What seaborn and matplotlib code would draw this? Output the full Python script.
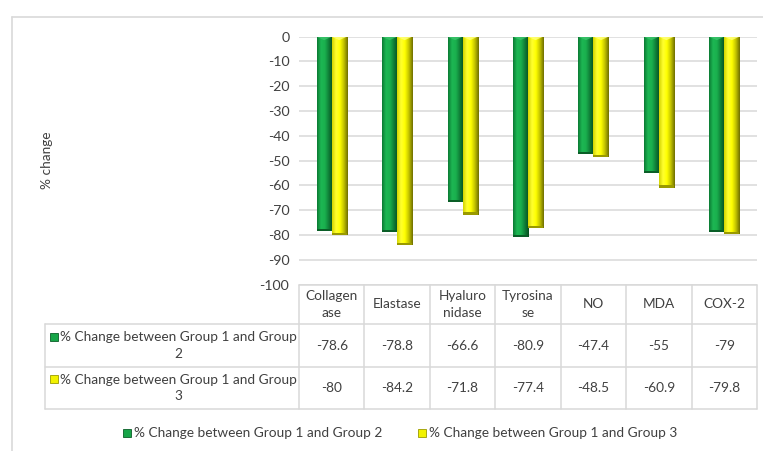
import numpy as np
import pandas as pd
import matplotlib
matplotlib.use("Agg")
import matplotlib.pyplot as plt
import seaborn as sns
from matplotlib.colors import LinearSegmentedColormap
from matplotlib.patches import Rectangle, Polygon
from matplotlib.lines import Line2D
from matplotlib.transforms import blended_transform_factory

# ---- data ----
categories = ["Collagenase", "Elastase", "Hyaluronidase", "Tyrosinase", "NO", "MDA", "COX-2"]
header_labels = ["Collagen\nase", "Elastase", "Hyaluro\nnidase", "Tyrosina\nse", "NO", "MDA", "COX-2"]
series_names = ["% Change between Group 1 and Group 2",
                "% Change between Group 1 and Group 3"]
row_labels = ["% Change between Group 1 and Group\n2",
              "% Change between Group 1 and Group\n3"]
group12 = [-78.6, -78.8, -66.6, -80.9, -47.4, -55, -79]
group13 = [-80, -84.2, -71.8, -77.4, -48.5, -60.9, -79.8]
value_text12 = ["-78.6", "-78.8", "-66.6", "-80.9", "-47.4", "-55", "-79"]
value_text13 = ["-80", "-84.2", "-71.8", "-77.4", "-48.5", "-60.9", "-79.8"]
y_ticks = list(range(0, -101, -10))

W, H = 763, 451
sns.set_theme(style="white")
plt.rcParams["font.family"] = ["Lato", "DejaVu Sans"]
TXT = "#404040"
GRID = "#d9d9d9"
FS = 9.8
LS = 1.5

fig = plt.figure(figsize=(W / 100, H / 100), dpi=100)
fig.patch.set_facecolor("white")

def fx(px):
    return px / W

def fy(py):
    return 1 - py / H

ax_l, ax_r, ax_t, ax_b = 299, 757, 36.7, 284.5
ax = fig.add_axes([fx(ax_l), fy(ax_b), fx(ax_r - ax_l), (ax_b - ax_t) / H])

df = pd.DataFrame({
    "category": categories * 2,
    "series": [series_names[0]] * len(categories) + [series_names[1]] * len(categories),
    "value": group12 + group13,
})

green, yellow = "#17a548", "#f2f200"
sns.barplot(data=df, x="category", y="value", hue="series", order=categories,
            hue_order=series_names, palette=[green, yellow], width=0.46,
            gap=0, dodge=True, saturation=1, legend=False, ax=ax,
            edgecolor="none", linewidth=0)

# bevelled, cylinder-like shading on each bar
stops = {
    green: ["#0b7a33", "#1db753", "#1ab04e", "#0f7d37", "#074d1f"],
    yellow: ["#d4d400", "#ffff30", "#ffff00", "#c2c200", "#6f6f00"],
}
ends = {green: "#0a5e27", yellow: "#9a9a00"}
tops = {green: "#3cc46c", yellow: "#ffff80"}
for patch in list(ax.patches):
    fc = matplotlib.colors.to_hex(patch.get_facecolor())
    key = green if fc == green else yellow
    x0, y0 = patch.get_x(), patch.get_y()
    w, h = patch.get_width(), patch.get_height()
    cmap = LinearSegmentedColormap.from_list("bar", stops[key])
    im = ax.imshow(np.linspace(0, 1, 64)[None, :], cmap=cmap,
                   extent=[x0, x0 + w, y0, y0 + h], aspect="auto",
                   interpolation="bilinear", zorder=3)
    im.set_clip_path(patch)
    ax.add_patch(Polygon([(x0, 0), (x0 + w, 0), (x0 + w / 2, -1.4)],
                         closed=True, facecolor=tops[key], edgecolor="none",
                         zorder=4, alpha=0.8))
    ax.add_patch(Rectangle((x0, y0 + h), w, 0.9, facecolor=ends[key],
                           edgecolor="none", zorder=4))

ax.set_xlim(-0.5, len(categories) - 0.5)
ax.set_ylim(-100, 0)
ax.set_yticks(y_ticks)
ax.set_yticklabels([str(t) for t in y_ticks], fontsize=FS + 0.4, color=TXT)
ax.tick_params(axis="y", length=0, pad=7)
ax.set_xticks([])
ax.set_xlabel("")
ax.set_ylabel("")
ax.grid(axis="y", color=GRID, linewidth=1.1)
ax.set_axisbelow(True)
for s in ax.spines.values():
    s.set_visible(False)

fig.text(fx(47), fy(160), "% change", rotation=90, ha="center", va="center",
         fontsize=FS, color=TXT)

# ---- data table below the plot ----
tr = blended_transform_factory(ax.transData, fig.transFigure)
row_y = [284.5, 324, 367, 409]
n = len(categories)
lkw = dict(color=GRID, linewidth=1.1, clip_on=False)
# horizontal lines
fig.add_artist(Line2D([-0.5, n - 0.5], [fy(row_y[0])] * 2, transform=tr, **lkw))
for yy in row_y[1:]:
    fig.add_artist(Line2D([fx(45), fx(ax_r)], [fy(yy)] * 2, **lkw))
# vertical lines
for i in range(n + 1):
    fig.add_artist(Line2D([i - 0.5] * 2, [fy(row_y[0]), fy(row_y[-1])], transform=tr, **lkw))
fig.add_artist(Line2D([fx(45)] * 2, [fy(row_y[1]), fy(row_y[-1])], **lkw))

for i, lab in enumerate(header_labels):
    fig.text(i, fy((row_y[0] + row_y[1]) / 2), lab, transform=tr, ha="center",
             va="center", fontsize=FS, color=TXT, linespacing=LS)
for r, vals in enumerate([value_text12, value_text13]):
    yc = (row_y[r + 1] + row_y[r + 2]) / 2
    for i, v in enumerate(vals):
        fig.text(i, fy(yc), v, transform=tr, ha="center", va="center",
                 fontsize=FS, color=TXT)
    fig.text(fx(178), fy(yc), row_labels[r], ha="center", va="center",
             fontsize=FS, color=TXT, linespacing=LS, multialignment="center")
    kc = [green, yellow][r]
    fig.add_artist(Rectangle((fx(50), fy(yc - 5)), fx(8), 8 / H,
                             facecolor=kc, edgecolor=ends[kc], linewidth=0.6))

# ---- legend ----
leg_y = 433
leg_items = [(123, series_names[0], green), (418, series_names[1], yellow)]
for kx, name, kc in leg_items:
    fig.add_artist(Rectangle((fx(kx), fy(leg_y + 4)), fx(8), 8 / H,
                             facecolor=kc, edgecolor=ends[kc], linewidth=0.6))
    fig.text(fx(kx + 11), fy(leg_y), name, ha="left", va="center",
             fontsize=FS, color=TXT)

# chart frame
fig.add_artist(Line2D([fx(12), 1], [fy(17)] * 2, color=GRID, linewidth=1.2))
fig.add_artist(Line2D([fx(12)] * 2, [fy(17), 0], color=GRID, linewidth=1.2))

fig.savefig("out.png", dpi=100, facecolor="white")
